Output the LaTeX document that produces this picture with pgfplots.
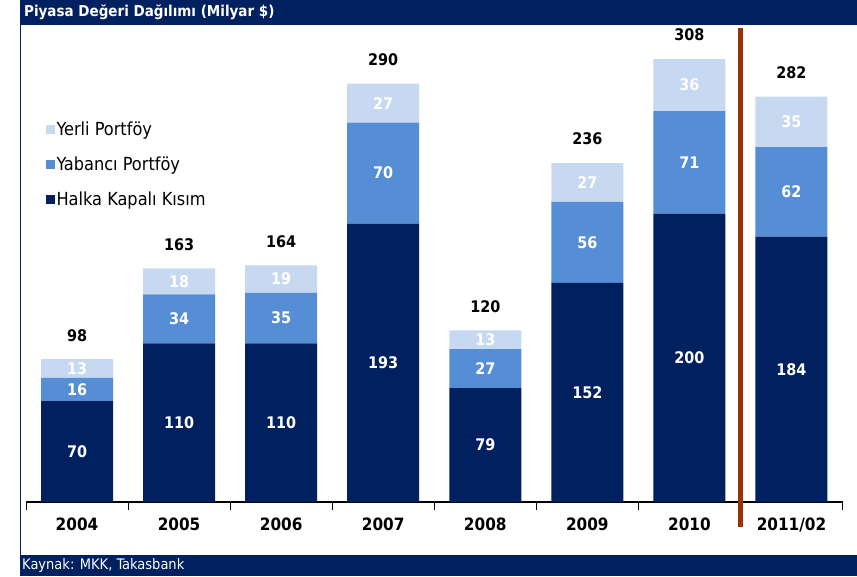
\documentclass[border=0pt]{standalone}
\usepackage{pgfplots}
\pgfplotsset{compat=1.18}
\usepackage{pgfplotstable}
\usepackage{fontspec}
\setmainfont{DejaVu Sans Condensed}
\definecolor{navy}{RGB}{0,32,96}
\definecolor{midblue}{RGB}{85,142,213}
\definecolor{lightblue}{RGB}{198,217,241}
\definecolor{sepcol}{RGB}{153,51,0}

\pgfplotstableread{
x halka yabanci yerli total
0 70 16 13 98
1 110 34 18 163
2 110 35 19 164
3 193 70 27 290
4 79 27 13 120
5 152 56 27 236
6 200 71 36 308
7 184 62 35 282
}\data

\pgfplotsset{
  base/.style={
    at={(26pt,74pt)}, anchor=south west,
    scale only axis, width=816.5pt, height=476pt,
    xmin=-0.5, xmax=7.5, ymin=0, ymax=330,
    clip=false, /pgf/number format/assume math mode=true,
  },
  lbl/.style={only marks, mark=none, nodes near coords, point meta=explicit,
    every node near coord/.append style={anchor=center, text=white,
      font=\fontsize{16}{18}\selectfont\bfseries}},
}

\begin{document}
\begin{tikzpicture}[x=1pt,y=1pt]
\fill[white] (0,0) rectangle (857,576);
\fill[navy] (20,551) rectangle (857,576);
\fill[navy] (20,0) rectangle (857,21);
\draw[navy, line width=1.2pt] (20.6,21) -- (20.6,551);
\node[anchor=west, text=white, inner sep=0pt, font=\fontsize{15}{17}\selectfont\bfseries] at (24,564) {Piyasa Değeri Dağılımı (Milyar \$)};
\node[anchor=west, text=white, inner sep=0pt, font=\fontsize{14.5}{16}\selectfont] at (22,10.5) {Kaynak: MKK, Takasbank};

\begin{axis}[base,
  ybar stacked, bar width=72pt,
  axis y line=none, axis x line*=bottom,
  x axis line style={line width=1.5pt, black},
  xtick={0,...,7}, major tick length=0pt,
  xticklabels={2004,2005,2006,2007,2008,2009,2010,2011/02},
  minor xtick={-0.5,0.5,...,7.5}, minor tick length=8pt,
  tick align=outside, tick style={black, line width=0.8pt},
  xticklabel style={font=\fontsize{17}{19}\selectfont\bfseries, yshift=-12pt},
  legend style={at={(0.02,0.808)}, anchor=north west, draw=none, fill=none,
    font=\fontsize{18}{20}\selectfont, row sep=16pt, legend cell align=left,
    /tikz/every even column/.append style={column sep=3pt}},
  reverse legend,
  legend image code/.code={\fill[#1,draw=none] (0pt,-4.5pt) rectangle (9pt,4.5pt);},
]
\addplot[fill=navy, draw=none] table[x=x,y=halka]{\data};
\addlegendentry{Halka Kapalı Kısım}
\addplot[fill=midblue, draw=none] table[x=x,y=yabanci]{\data};
\addlegendentry{Yabancı Portföy}
\addplot[fill=lightblue, draw=none] table[x=x,y=yerli]{\data};
\addlegendentry{Yerli Portföy}
\draw[sepcol, line width=5pt] (axis cs:6.5,-17.3) -- (axis cs:6.5,328.6);
\end{axis}

\begin{axis}[base, hide axis]
\addplot[lbl] table[x=x, y expr=\thisrow{halka}/2, meta=halka]{\data};
\addplot[lbl] table[x=x, y expr=\thisrow{halka}+\thisrow{yabanci}/2, meta=yabanci]{\data};
\addplot[lbl] table[x=x, y expr=\thisrow{halka}+\thisrow{yabanci}+\thisrow{yerli}/2, meta=yerli]{\data};
\addplot[lbl, every node near coord/.append style={text=black, yshift=24pt}] table[x=x, y expr=\thisrow{halka}+\thisrow{yabanci}+\thisrow{yerli}, meta=total]{\data};
\end{axis}
\end{tikzpicture}
\end{document}
